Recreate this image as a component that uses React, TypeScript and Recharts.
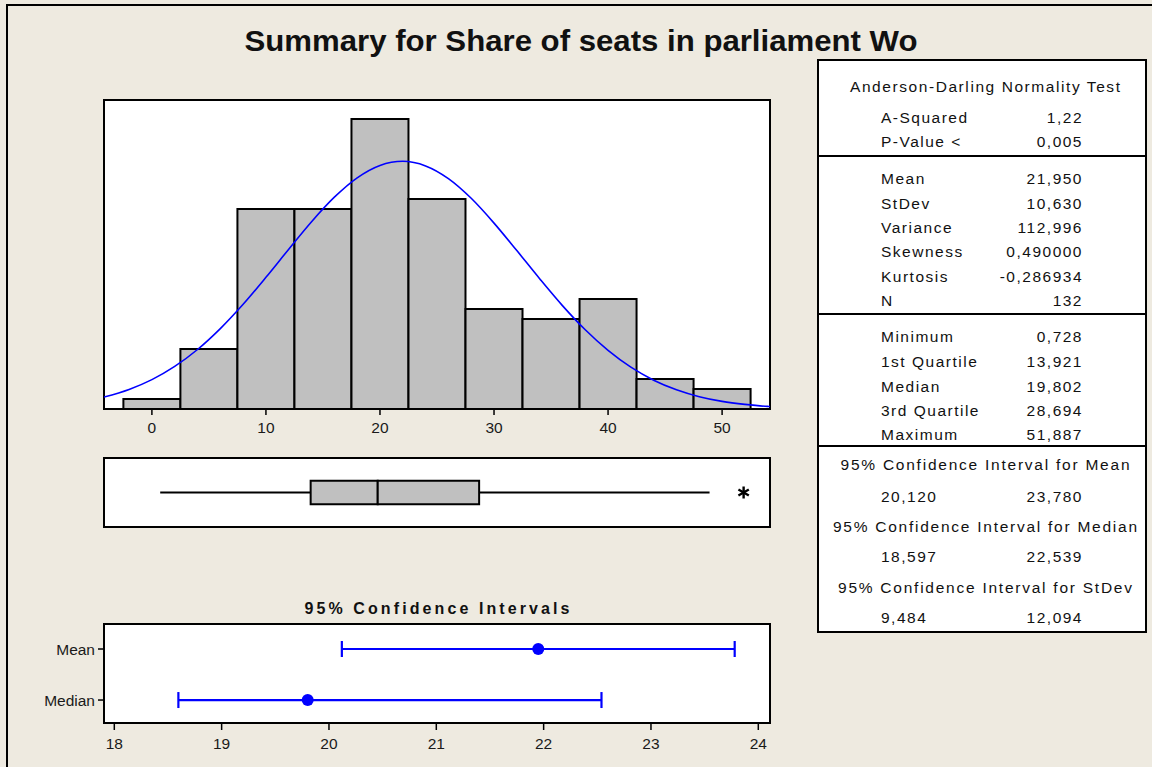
import React from 'react';
import {
  ComposedChart,
  Bar,
  Line,
  XAxis,
  YAxis,
  ReferenceArea,
  ReferenceLine,
  Scatter,
  ErrorBar,
  CartesianGrid,
} from 'recharts';

// ---------- data ----------
const binCenters = [0, 5, 10, 15, 20, 25, 30, 35, 40, 45, 50];
const binCounts = [1, 6, 20, 20, 29, 21, 10, 9, 11, 3, 2];
const histTicks = [0, 10, 20, 30, 40, 50];

const curveX = [-4.2, -2, 0, 2, 4, 6, 8, 10, 12, 14, 16, 18, 20, 22, 24, 26, 28, 30, 32, 34, 36, 38, 40, 42, 44, 46, 48, 50, 52, 54, 54.2];
const curveY = [1.2, 1.96, 2.94, 4.26, 5.95, 8.04, 10.47, 13.17, 15.98, 18.73, 21.18, 23.12, 24.36, 24.77, 24.31, 23.04, 21.07, 18.59, 15.84, 13.03, 10.34, 7.92, 5.86, 4.18, 2.88, 1.92, 1.23, 0.76, 0.46, 0.26, 0.25];

const boxMin = 0.728;
const boxQ1 = 13.921;
const boxMedian = 19.802;
const boxQ3 = 28.694;
const whiskerHigh = 48.9;
const outliers = [51.887];

const ciLabels = ['Mean', 'Median'];
const ciCenters = [21.95, 19.802];
const ciLows = [20.12, 18.597];
const ciHighs = [23.78, 22.539];
const ciTicks = [18, 19, 20, 21, 22, 23, 24];

const adTitle = 'Anderson-Darling Normality Test';
const adRows = [
  ['A-Squared', '1,22'],
  ['P-Value <', '0,005'],
];
const momentRows = [
  ['Mean', '21,950'],
  ['StDev', '10,630'],
  ['Variance', '112,996'],
  ['Skewness', '0,490000'],
  ['Kurtosis', '-0,286934'],
  ['N', '132'],
];
const quartileRows = [
  ['Minimum', '0,728'],
  ['1st Quartile', '13,921'],
  ['Median', '19,802'],
  ['3rd Quartile', '28,694'],
  ['Maximum', '51,887'],
];
const ciHeads = [
  '95% Confidence Interval for Mean',
  '95% Confidence Interval for Median',
  '95% Confidence Interval for StDev',
];
const ciTableValues = [
  ['20,120', '23,780'],
  ['18,597', '22,539'],
  ['9,484', '12,094'],
];

const TITLE = 'Summary for Share of seats in parliament Wo';
const CI_TITLE = '95% Confidence Intervals';

// ---------- style ----------
const BG = '#EEEAE0';
const FONT = '"Liberation Sans", Arial, sans-serif';
const BLUE = '#0000FF';

const histData = binCenters.map((x, i) => ({ x, count: binCounts[i] }));
const curveData = curveX.map((x, i) => ({ x, fit: curveY[i] }));
const outlierData = outliers.map((x) => ({ x, y: 0.5 }));
const ciData = ciLabels.map((label, i) => ({
  label,
  y: ciLabels.length - i,
  x: ciCenters[i],
  err: [ciCenters[i] - ciLows[i], ciHighs[i] - ciCenters[i]],
}));

const HIST_DOMAIN: [number, number] = [-4.2, 54.2];
const HIST_Y: [number, number] = [0, 30.9];
const CI_DOMAIN: [number, number] = [17.904, 24.109];
const CI_Y: [number, number] = [0.55, 2.49];

const tickStyle = { fontSize: 15.5, fill: '#1a1a1a', fontFamily: FONT };

const Star = (props: any) => {
  const { cx, cy } = props;
  const r = 6;
  const lines = [90, 30, 150].map((a) => {
    const rad = (a * Math.PI) / 180;
    return (
      <line
        key={a}
        x1={cx - r * Math.cos(rad)}
        y1={cy - r * Math.sin(rad)}
        x2={cx + r * Math.cos(rad)}
        y2={cy + r * Math.sin(rad)}
        stroke="#000"
        strokeWidth={2.4}
      />
    );
  });
  return <g>{lines}</g>;
};

const Dot = (props: any) => <circle cx={props.cx} cy={props.cy} r={6} fill={BLUE} />;

function Histogram() {
  return (
    <ComposedChart
      width={800}
      height={450}
      data={histData}
      margin={{ top: 100, left: 104, right: 30, bottom: 11 }}
      barCategoryGap={0}
      barGap={0}
    >
      <CartesianGrid horizontal={false} vertical={false} fill="#FFFFFF" fillOpacity={1} />
      <XAxis
        dataKey="x"
        type="number"
        domain={HIST_DOMAIN}
        allowDataOverflow
        ticks={histTicks}
        axisLine={false}
        tickLine={{ stroke: '#000', strokeWidth: 1.5 }}
        tickSize={6}
        tickMargin={7}
        tick={tickStyle}
        height={30}
      />
      <XAxis xAxisId="curve" dataKey="x" type="number" domain={HIST_DOMAIN} allowDataOverflow hide />
      <YAxis hide domain={HIST_Y} allowDataOverflow />
      <Bar dataKey="count" fill="#C0C0C0" stroke="#000" strokeWidth={2} isAnimationActive={false} />
      <Line
        xAxisId="curve"
        data={curveData}
        dataKey="fit"
        type="monotone"
        stroke={BLUE}
        strokeWidth={1.6}
        dot={false}
        isAnimationActive={false}
      />
      <ReferenceArea
        x1={HIST_DOMAIN[0]}
        x2={HIST_DOMAIN[1]}
        y1={HIST_Y[0]}
        y2={HIST_Y[1]}
        fill="none"
        stroke="#000"
        strokeWidth={2}
      />
    </ComposedChart>
  );
}

function BoxPlot() {
  return (
    <ComposedChart width={800} height={100} data={outlierData} margin={{ top: 18, left: 104, right: 30, bottom: 13 }}>
      <CartesianGrid horizontal={false} vertical={false} fill="#FFFFFF" fillOpacity={1} />
      <XAxis dataKey="x" type="number" domain={HIST_DOMAIN} allowDataOverflow hide />
      <YAxis dataKey="y" type="number" domain={[0, 1]} hide />
      <ReferenceLine
        segment={[
          { x: boxMin, y: 0.5 },
          { x: boxQ1, y: 0.5 },
        ]}
        stroke="#000"
        strokeWidth={2}
      />
      <ReferenceLine
        segment={[
          { x: boxQ3, y: 0.5 },
          { x: whiskerHigh, y: 0.5 },
        ]}
        stroke="#000"
        strokeWidth={2}
      />
      <ReferenceArea x1={boxQ1} x2={boxMedian} y1={0.33} y2={0.67} fill="#C0C0C0" fillOpacity={1} stroke="#000" strokeWidth={2} />
      <ReferenceArea x1={boxMedian} x2={boxQ3} y1={0.33} y2={0.67} fill="#C0C0C0" fillOpacity={1} stroke="#000" strokeWidth={2} />
      <Scatter dataKey="y" shape={<Star />} isAnimationActive={false} />
      <ReferenceArea x1={HIST_DOMAIN[0]} x2={HIST_DOMAIN[1]} y1={0} y2={1} fill="none" stroke="#000" strokeWidth={2} />
    </ComposedChart>
  );
}

function CIPlot() {
  return (
    <ComposedChart width={800} height={177} data={ciData} margin={{ top: 34, left: 44, right: 30, bottom: 14 }}>
      <CartesianGrid horizontal={false} vertical={false} fill="#FFFFFF" fillOpacity={1} />
      <XAxis
        dataKey="x"
        type="number"
        domain={CI_DOMAIN}
        allowDataOverflow
        ticks={ciTicks}
        axisLine={false}
        tickLine={{ stroke: '#000', strokeWidth: 1.5 }}
        tickSize={7}
        tickMargin={8}
        tick={tickStyle}
        height={30}
      />
      <YAxis
        dataKey="y"
        type="number"
        domain={CI_Y}
        allowDataOverflow
        ticks={ciLabels.map((_, i) => ciLabels.length - i)}
        tickFormatter={(v: number) => ciLabels[ciLabels.length - v] ?? ''}
        axisLine={false}
        tickLine={{ stroke: '#000', strokeWidth: 1.5 }}
        tickSize={6}
        tickMargin={3}
        tick={tickStyle}
        width={60}
      />
      <Scatter dataKey="y" shape={<Dot />} isAnimationActive={false}>
        <ErrorBar dataKey="err" direction="x" width={8} stroke={BLUE} strokeWidth={2.2} />
      </Scatter>
      <ReferenceArea x1={CI_DOMAIN[0]} x2={CI_DOMAIN[1]} y1={CI_Y[0]} y2={CI_Y[1]} fill="none" stroke="#000" strokeWidth={2} />
    </ComposedChart>
  );
}

function StatsTable() {
  const LX = 881;
  const RX = 1083;
  const CX = 985;
  const fs = 15.5;
  const ls = 1.5;
  const txt = (x: number, y: number, s: string, anchor: 'start' | 'end' | 'middle', key: string, len?: number) => (
    <text
      key={key}
      x={x}
      y={y}
      textAnchor={anchor}
      fontSize={fs}
      fill="#111"
      fontFamily={FONT}
      letterSpacing={len ? undefined : ls}
      textLength={len}
      lengthAdjust={len ? 'spacing' : undefined}
    >
      {s}
    </text>
  );
  const adY = [122.7, 147];
  const momY = [184, 208.5, 232.7, 257.3, 281.7, 306];
  const qY = [342.3, 366.7, 392, 416, 440];
  const headY = [470, 531.7, 593.3];
  const headLen = [289, 304, 294];
  const valY = [501.7, 561.7, 623.3];
  return (
    <svg width={1152} height={767} style={{ position: 'absolute', left: 0, top: 0 }}>
      <rect x={818} y={60} width={328} height={572} fill="#FFFFFF" stroke="#000" strokeWidth={2} />
      <line x1={818} x2={1146} y1={156} y2={156} stroke="#000" strokeWidth={2} />
      <line x1={818} x2={1146} y1={314} y2={314} stroke="#000" strokeWidth={2} />
      <line x1={818} x2={1146} y1={446} y2={446} stroke="#000" strokeWidth={2} />
      {txt(CX, 91.7, adTitle, 'middle', 'adt', 270)}
      {adRows.map((r, i) => [txt(LX, adY[i], r[0], 'start', 'al' + i), txt(RX, adY[i], r[1], 'end', 'av' + i)])}
      {momentRows.map((r, i) => [txt(LX, momY[i], r[0], 'start', 'ml' + i), txt(RX, momY[i], r[1], 'end', 'mv' + i)])}
      {quartileRows.map((r, i) => [txt(LX, qY[i], r[0], 'start', 'ql' + i), txt(RX, qY[i], r[1], 'end', 'qv' + i)])}
      {ciHeads.map((h, i) => txt(CX, headY[i], h, 'middle', 'ch' + i, headLen[i]))}
      {ciTableValues.map((v, i) => [txt(LX, valY[i], v[0], 'start', 'cl' + i), txt(RX, valY[i], v[1], 'end', 'cv' + i)])}
    </svg>
  );
}

export default function App() {
  return (
    <div
      style={{
        position: 'absolute',
        left: 0,
        top: 0,
        width: 1152,
        height: 767,
        background: BG,
        overflow: 'hidden',
        fontFamily: FONT,
      }}
    >
      <svg width={1152} height={767} style={{ position: 'absolute', left: 0, top: 0 }}>
        <rect x={7} y={5} width={1300} height={900} fill={BG} stroke="#000" strokeWidth={2} />
        <text x={581} y={51} textAnchor="middle" fontSize={30} fontWeight="bold" fill="#111" fontFamily={FONT} textLength={673} lengthAdjust="spacingAndGlyphs">
          {TITLE}
        </text>
        <text x={437} y={614} textAnchor="middle" fontSize={16} fontWeight="bold" fill="#111" fontFamily={FONT} textLength={265} lengthAdjust="spacing">
          {CI_TITLE}
        </text>
      </svg>
      <div style={{ position: 'absolute', left: 0, top: 0 }}>
        <Histogram />
      </div>
      <div style={{ position: 'absolute', left: 0, top: 440 }}>
        <BoxPlot />
      </div>
      <div style={{ position: 'absolute', left: 0, top: 590 }}>
        <CIPlot />
      </div>
      <StatsTable />
    </div>
  );
}
